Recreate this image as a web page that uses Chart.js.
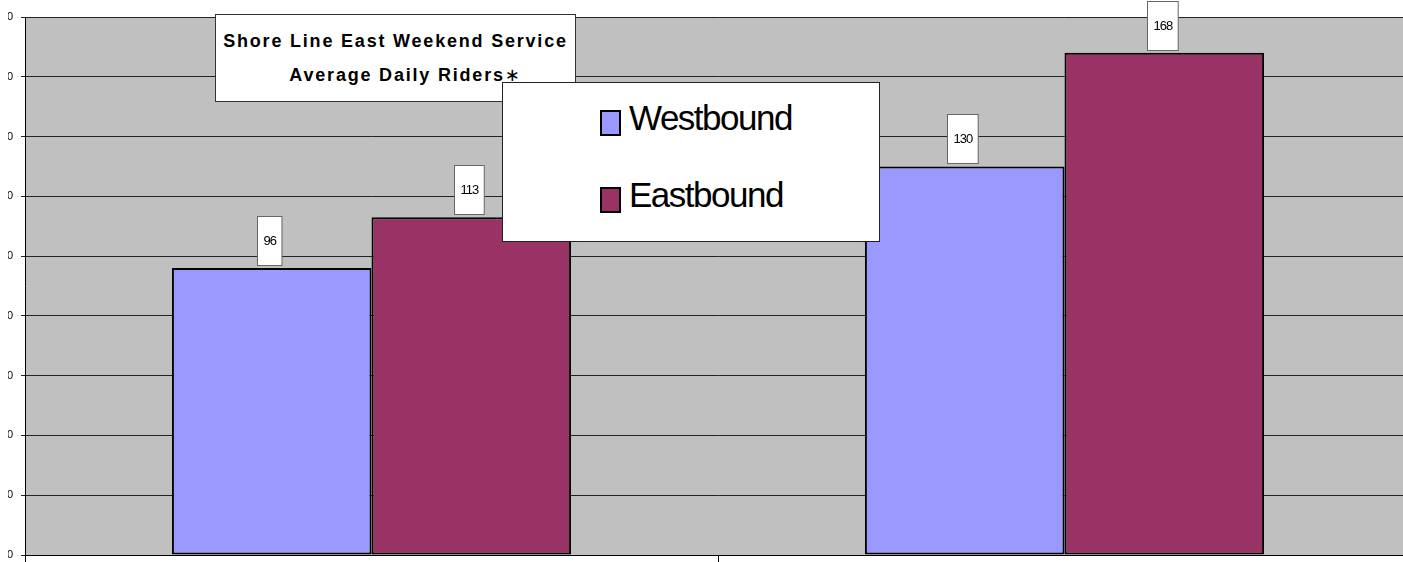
<!DOCTYPE html>
<html>
<head>
<meta charset="utf-8">
<script src="https://cdn.jsdelivr.net/npm/chart.js@4"></script>
<style>
  body { margin: 0; background: white; width: 1403px; height: 562px; overflow: hidden; position: relative; font-family: "Liberation Sans", Arial, sans-serif; }
  #clip { position: absolute; left: 8px; top: 0; width: 1395px; height: 562px; overflow: hidden; }
  #myChart { position: absolute; left: -48px; top: 0; }
  #titleBox {
    position: absolute; left: 215px; top: 14px; width: 359px; height: 86px;
    background: white; border: 1px solid #333;
    font-weight: bold; font-size: 18px; letter-spacing: 1.8px; color: black;
  }
  #titleBox .l1 { position: absolute; left: 0; right: 0; top: 16px; text-align: center; white-space: nowrap; }
  #titleBox .l2 { position: absolute; left: 20px; right: 0; top: 49px; text-align: center; white-space: nowrap; }
  #legendBox {
    position: absolute; left: 502px; top: 82px; width: 376px; height: 158px;
    background: white; border: 1px solid #222;
  }
  .legItem { position: absolute; left: 97px; height: 30px; }
  .legItem .sw { position: absolute; left: 0; top: 0; width: 17px; height: 22px; border: 2px solid black; }
  .legItem .tx { position: absolute; left: 29px; top: -12px; font-size: 35px; letter-spacing: -1.5px; white-space: nowrap; color: black; }
</style>
</head>
<body>
<div id="clip"><canvas id="myChart" width="1460" height="562"></canvas></div>
<div id="titleBox">
  <div class="l1">Shore Line East Weekend Service</div>
  <div class="l2">Average Daily Riders<span style="font-family:'DejaVu Sans';font-weight:normal">∗</span></div>
</div>
<div id="legendBox"></div>
<script>
// values
const categories = ['', '']
const seriesNames = ['Westbound', 'Eastbound']
const westbound = [96, 130]
const eastbound = [113, 168]
const seriesColors = ['#9999FF', '#993366']
const yTicks = [0, 20, 40, 60, 80, 100, 120, 140, 160, 180]

const plotBackground = {
  id: 'plotBackground',
  beforeDraw(chart) {
    const { ctx, chartArea } = chart
    ctx.save()
    ctx.fillStyle = '#C0C0C0'
    ctx.fillRect(chartArea.left, chartArea.top, chartArea.right - chartArea.left, chartArea.bottom - chartArea.top)
    ctx.restore()
  }
}

// boxed value labels above each bar
const valueBoxes = {
  id: 'valueBoxes',
  afterDatasetsDraw(chart) {
    const ctx = chart.ctx
    ctx.save()
    ctx.font = '13px "Liberation Sans", Arial, sans-serif'
    ctx.letterSpacing = '-1px'
    chart.data.datasets.forEach((ds, i) => {
      chart.getDatasetMeta(i).data.forEach((bar, j) => {
        const txt = String(ds.data[j])
        const w = ctx.measureText(txt).width + 12
        const h = 49
        const x = Math.round(bar.x - 2 - w / 2) + 0.5
        const y = Math.round(bar.y - 3 - h) + 0.5
        ctx.fillStyle = 'white'
        ctx.fillRect(x, y, w, h)
        ctx.strokeStyle = '#666'
        ctx.lineWidth = 1
        ctx.strokeRect(x, y, w, h)
        ctx.fillStyle = 'black'
        ctx.textAlign = 'center'
        ctx.textBaseline = 'middle'
        ctx.fillText(txt, x + w / 2, y + h / 2)
      })
    })
    ctx.restore()
  }
}

const config = {
  type: 'bar',
  data: {
    labels: categories,
    datasets: [
      { label: seriesNames[0], data: westbound, backgroundColor: seriesColors[0] },
      { label: seriesNames[1], data: eastbound, backgroundColor: seriesColors[1] }
    ]
  },
  options: {
    responsive: false,
    animation: false,
    devicePixelRatio: 1,
    layout: { padding: { top: 17, right: 9, left: 0, bottom: 0 } },
    datasets: {
      bar: {
        categoryPercentage: 0.576,
        barPercentage: 1.0,
        borderColor: '#000',
        borderWidth: 2,
        borderSkipped: false
      }
    },
    plugins: {
      legend: { display: false },
      tooltip: { enabled: false },
      title: { display: false }
    },
    scales: {
      x: {
        grid: { offset: true, drawOnChartArea: false, drawTicks: true, tickLength: 9, color: '#000' },
        border: { color: '#000', width: 1 },
        ticks: { display: false },
        afterFit(scale) {
          scale.height = 7
          scale.paddingLeft = 0
          scale.paddingRight = 0
        }
      },
      y: {
        min: 0,
        max: 180,
        afterBuildTicks(scale) { scale.ticks = yTicks.map(v => ({ value: v })) },
        grid: { color: '#222', tickLength: 4 },
        border: { color: '#000', width: 1 },
        ticks: { color: '#000', padding: 8, font: { family: 'Liberation Sans', size: 11 } },
        afterFit(scale) {
          scale.width = 65
          scale.paddingTop = 0
          scale.paddingBottom = 0
        }
      }
    }
  },
  plugins: [plotBackground, valueBoxes]
}

const chart = new Chart(document.getElementById('myChart').getContext('2d'), config)

// legend box built from the chart's datasets
const legendBox = document.getElementById('legendBox')
chart.data.datasets.forEach((ds, i) => {
  const item = document.createElement('div')
  item.className = 'legItem'
  item.style.top = (27 + i * 77) + 'px'
  item.innerHTML = '<div class="sw" style="background:' + ds.backgroundColor + '"></div><div class="tx">' + ds.label + '</div>'
  legendBox.appendChild(item)
})
</script>
</body>
</html>
